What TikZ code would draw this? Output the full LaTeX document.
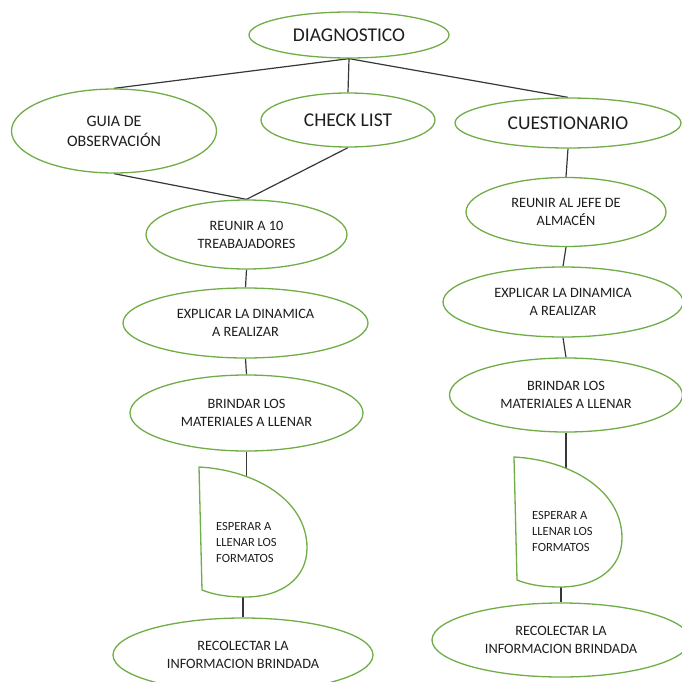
\documentclass[tikz,border=0pt]{standalone}
\usepackage{fontspec}
\setmainfont{Carlito}
\usetikzlibrary{shapes.geometric,backgrounds}
\definecolor{ovalgreen}{RGB}{112,173,71}
\definecolor{linkgray}{RGB}{55,55,55}
\definecolor{txt}{RGB}{30,30,30}
\tikzset{
  oval/.style={ellipse, draw=ovalgreen, line width=1.3pt, fill=white,
    inner sep=0pt, align=center, text=txt},
  bigtxt/.style={font=\fontsize{19.5}{23}\selectfont},
  midtxt/.style={font=\fontsize{16}{20}\selectfont},
  smalltxt/.style={font=\fontsize{14.3}{18}\selectfont},
  delaytxt/.style={font=\fontsize{12.5}{16}\selectfont, align=left,
    inner sep=0pt, anchor=west, text=txt},
  link/.style={draw=linkgray, line width=1.2pt},
  delaybox/.pic={
    \path[draw=ovalgreen, line width=1.3pt, fill=white]
      (0,0) .. controls (56,3) and (108,33) .. (108,81)
            .. controls (108,111) and (83,130) .. (46,130)
            .. controls (26,130) and (13,127) .. (3,123) -- cycle;
  }
}
\begin{document}
\begin{tikzpicture}[x=1pt, y=-1pt]
  \useasboundingbox (0,0) rectangle (682,682);
  \clip (0,0) rectangle (682,682);

  % top level
  \node[oval, bigtxt, minimum width=200pt, minimum height=46pt] (diag) at (349,35) {DIAGNOSTICO};
  \node[oval, midtxt, minimum width=205pt, minimum height=84pt] (guia) at (114,131) {GUIA DE\\OBSERVACIÓN};
  \node[oval, bigtxt, minimum width=174pt, minimum height=54pt] (check) at (348,120) {CHECK LIST};
  \node[oval, bigtxt, minimum width=226pt, minimum height=50pt] (cuest) at (568,123) {CUESTIONARIO};

  % left branch
  \node[oval, smalltxt, minimum width=201pt, minimum height=69pt] (reunirL) at (246.5,234.5) {REUNIR A 10\\TREABAJADORES};
  \node[oval, smalltxt, minimum width=245pt, minimum height=70pt] (explL) at (245.5,323) {EXPLICAR LA DINAMICA\\A REALIZAR};
  \node[oval, smalltxt, minimum width=233pt, minimum height=76pt] (brinL) at (246.5,413) {BRINDAR LOS\\MATERIALES A LLENAR};
  \pic at (199,467) {delaybox};
  \node[delaytxt] (espL) at (216,542) {ESPERAR A\\LLENAR LOS\\FORMATOS};
  \node[oval, smalltxt, minimum width=260pt, minimum height=74pt] (recL) at (243,655) {RECOLECTAR LA\\INFORMACION BRINDADA};

  % right branch
  \node[oval, smalltxt, minimum width=200pt, minimum height=69pt] (reunirR) at (566,212) {REUNIR AL JEFE DE\\ALMACÉN};
  \node[oval, smalltxt, minimum width=240pt, minimum height=70pt] (explR) at (563,302) {EXPLICAR LA DINAMICA\\A REALIZAR};
  \node[oval, smalltxt, minimum width=233pt, minimum height=74pt] (brinR) at (566,395) {BRINDAR LOS\\MATERIALES A LLENAR};
  \pic at (514,457) {delaybox};
  \node[delaytxt] (espR) at (532,531) {ESPERAR A\\LLENAR LOS\\FORMATOS};
  \node[oval, smalltxt, minimum width=258pt, minimum height=74pt] (recR) at (561,640) {RECOLECTAR LA\\INFORMACION BRINDADA};

  % connectors
  \begin{scope}[on background layer]
    \draw[link] (diag.south) -- (guia.north);
    \draw[link] (diag.south) -- (check.north);
    \draw[link] (diag.south) -- (cuest.north);
    \draw[link] (guia.south) -- (reunirL.north);
    \draw[link] (check.south) -- (reunirL.north);
    \draw[link] (reunirL.south) -- (explL.north);
    \draw[link] (explL.south) -- (brinL.north);
    \draw[link] (brinL.south) -- (brinL.south |- espL);
    \draw[link] (recL.north) -- (recL.north |- espL);
    \draw[link] (cuest.south) -- (reunirR.north);
    \draw[link] (reunirR.south) -- (explR.north);
    \draw[link] (explR.south) -- (brinR.north);
    \draw[link] (brinR.south) -- (brinR.south |- espR);
    \draw[link] (recR.north) -- (recR.north |- espR);
  \end{scope}
\end{tikzpicture}
\end{document}
